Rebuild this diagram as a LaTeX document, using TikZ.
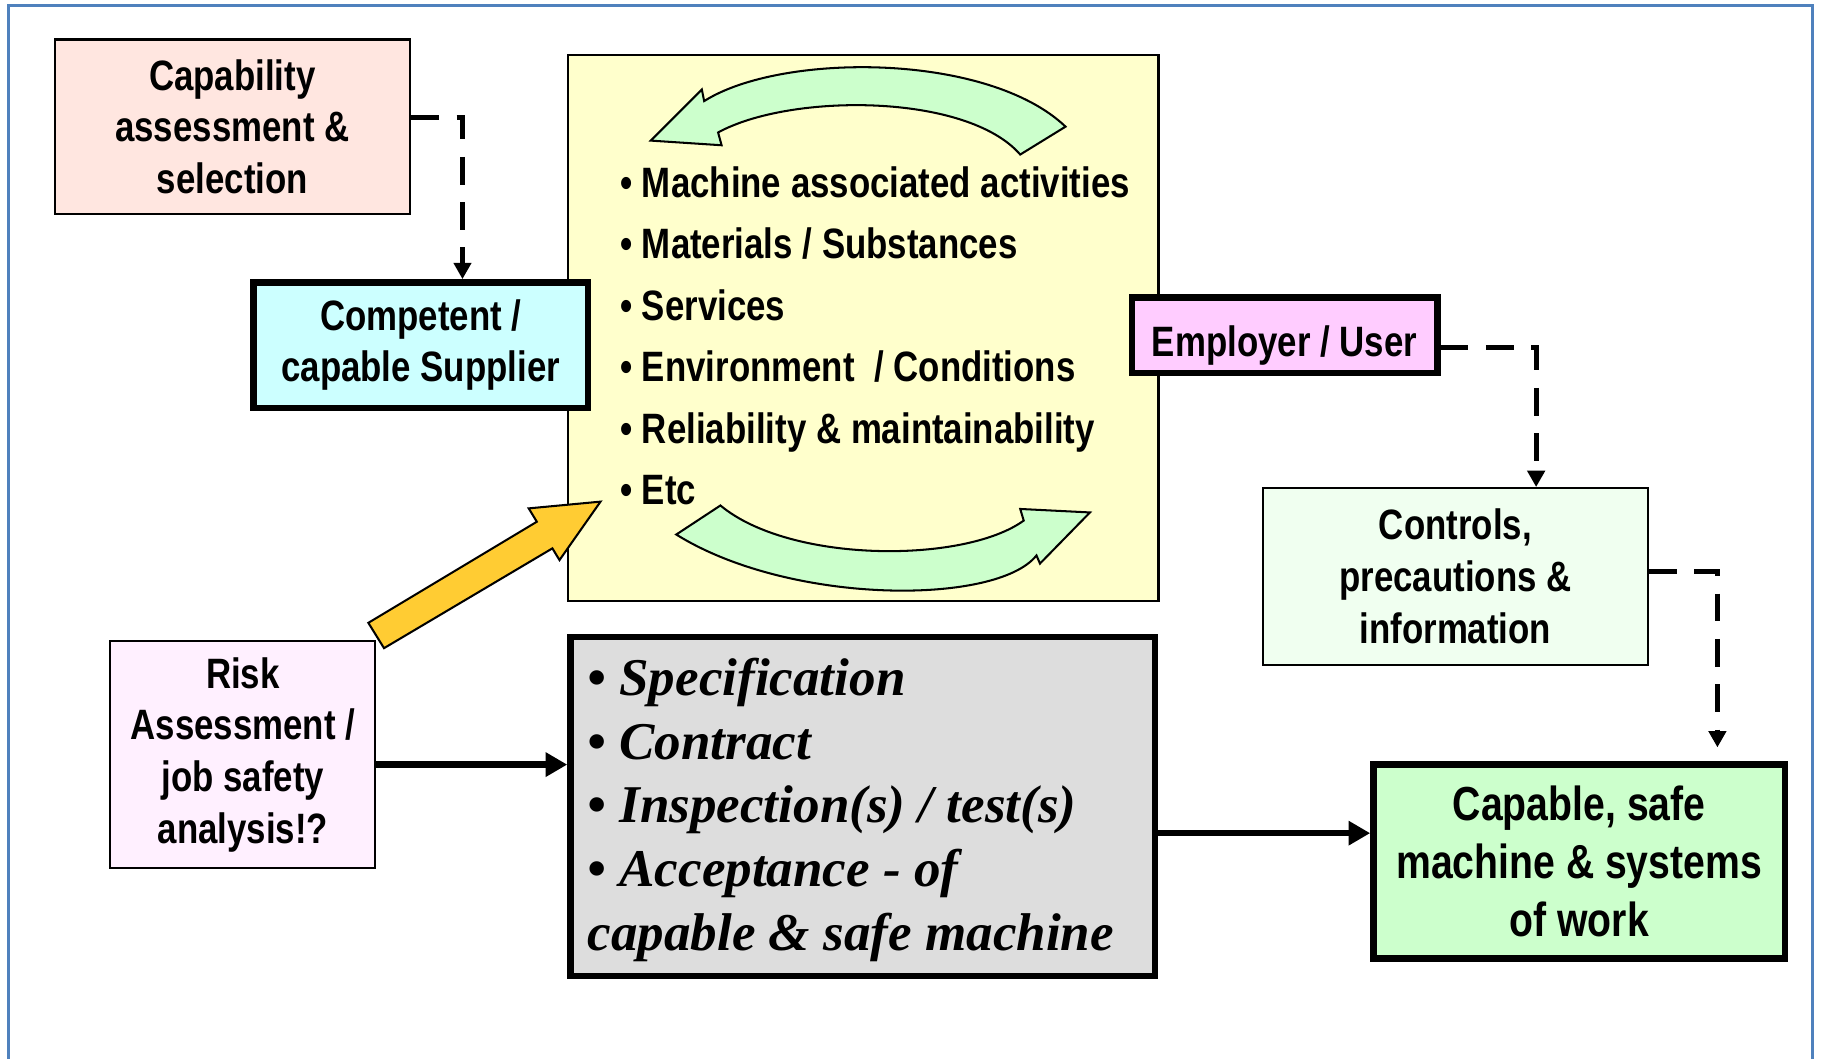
\documentclass[tikz,border=0pt]{standalone}
\usepackage{fontspec}
\setmainfont{Liberation Sans}[FakeStretch=0.82]
\newfontfamily\timesbi{Liberation Serif}
\usetikzlibrary{arrows.meta,calc}

\definecolor{framecol}{HTML}{4F81BD}
\definecolor{capfill}{HTML}{FFE6E0}
\definecolor{compfill}{HTML}{CCFFFF}
\definecolor{itemfill}{HTML}{FFFFCC}
\definecolor{turnfill}{HTML}{CCFFCC}
\definecolor{pushfill}{HTML}{FFCC33}
\definecolor{empfill}{HTML}{FFCCFF}
\definecolor{ctrlfill}{HTML}{F0FFF0}
\definecolor{riskfill}{HTML}{FFF0FF}
\definecolor{specfill}{HTML}{DDDDDD}
\definecolor{safefill}{HTML}{CCFFCC}

\newcommand\boxfont{\fontsize{10.4pt}{12.66pt}\selectfont\bfseries}
\newcommand\listfont{\fontsize{10.4pt}{15.08pt}\selectfont\bfseries}
\newcommand\safefont{\fontsize{11.7pt}{14.2pt}\selectfont\bfseries}
\newcommand\specfont{\fontsize{13pt}{15.65pt}\selectfont\timesbi\bfseries\itshape}

\tikzset{
    box/.style={draw, line width=0.5pt, inner sep=0pt, align=center, font=\boxfont},
    heavybox/.style={box, line width=1.6pt},
    dashlink/.style={line width=1.3pt, dash pattern=on 6.8pt off 4.3pt,
        -{Triangle[length=4pt,width=4.2pt]}},
    solidlink/.style={line width=1.6pt, -{Triangle[length=5.3pt,width=5.7pt]}},
    turnarrow/.style={draw, line width=0.5pt, fill=turnfill},
}

\begin{document}
\begin{tikzpicture}[x=0.1mm, y=-0.1mm]
    \useasboundingbox (0,0) rectangle (1568,911);
    \draw[framecol, line width=0.8pt] (7.5,930) -- (7.5,5) -- (1560,5) -- (1560,930);

    % centre block and its turning arrows
    \node[box, fill=itemfill, minimum width=50.8mm, minimum height=47mm] (items) at (743,282) {};
    \path[turnarrow] (917,109) .. controls (850,45) and (672,45) .. (606,87)
        -- (604,77) -- (560,121) -- (621,125) -- (618,114)
        .. controls (680,80) and (832,80) .. (878,133) -- cycle;
    \path[turnarrow] (582,460) .. controls (680,521) and (858,521) .. (892,478)
        -- (895,485) -- (938,441) -- (878,438) -- (881,448)
        .. controls (830,485) and (680,485) .. (620,435) -- cycle;
    \node[anchor=west, align=left, inner sep=0pt, font=\listfont] (acts) at (533,289)
        {• Machine associated activities\\
         • Materials / Substances\\
         • Services\\
         • Environment\ \ / Conditions\\
         • Reliability \& maintainability\\
         • Etc};

    \node[box, fill=capfill, minimum width=30.6mm, minimum height=15mm] (cap) at (200,109)
        {Capability\\ assessment \&\\ selection};
    \node[heavybox, fill=compfill, minimum width=28.8mm, minimum height=10.8mm] (comp) at (362,297)
        {Competent /\\ capable Supplier};
    \node[heavybox, fill=empfill, minimum width=26.3mm, minimum height=6.5mm,
        text height=3.7mm, text depth=0pt] (emp) at (1105.5,288.5)
        {Employer / User};
    \node[box, fill=ctrlfill, minimum width=33.1mm, minimum height=15.2mm] (ctrl) at (1252.5,496)
        {Controls,\\ precautions \&\\ information};
    \node[box, fill=riskfill, minimum width=22.8mm, minimum height=19.5mm] (risk) at (209,649.5)
        {Risk\\ Assessment /\\ job safety\\ analysis!?};
    \node[heavybox, fill=specfill, minimum width=50.3mm, minimum height=29.2mm] (spec) at (742.5,694) {};
    \node[anchor=west, align=left, inner sep=0pt, font=\specfont] (steps) at (505,697)
        {• Specification\\
         • Contract\\
         • Inspection(s) / test(s)\\
         • Acceptance - of\\
         capable \& safe machine};
    \node[heavybox, fill=safefill, minimum width=35.4mm, minimum height=16.7mm, font=\safefont] (safe) at (1359,741.5)
        {Capable, safe\\ machine \& systems\\ of work};

    % risk assessment feeds the centre block
    \draw[line width=0.5pt, fill=pushfill] (317,536) -- (462,449) -- (455,437.5) -- (516.8,431.7)
        -- (481.5,482) -- (475.4,471.9) -- (330.5,557.8) -- cycle;

    \draw[dashlink] ($(cap.east)+(0,-8)$) -| ($(comp.north)+(36,0)$);
    \draw[dashlink] ($(emp.east)+(0,10.5)$) -| ($(ctrl.north)+(69.5,0)$);
    \draw[dashlink] ($(ctrl.east)+(0,-4)$) -| ($(safe.north)+(119,-12)$);

    \coordinate (riskout) at ($(risk.east)+(0,8.5)$);
    \coordinate (specout) at ($(spec.east)+(0,23)$);
    \draw[solidlink] (riskout) -- (riskout -| spec.west);
    \draw[solidlink] (specout) -- (specout -| safe.west);
\end{tikzpicture}
\end{document}
